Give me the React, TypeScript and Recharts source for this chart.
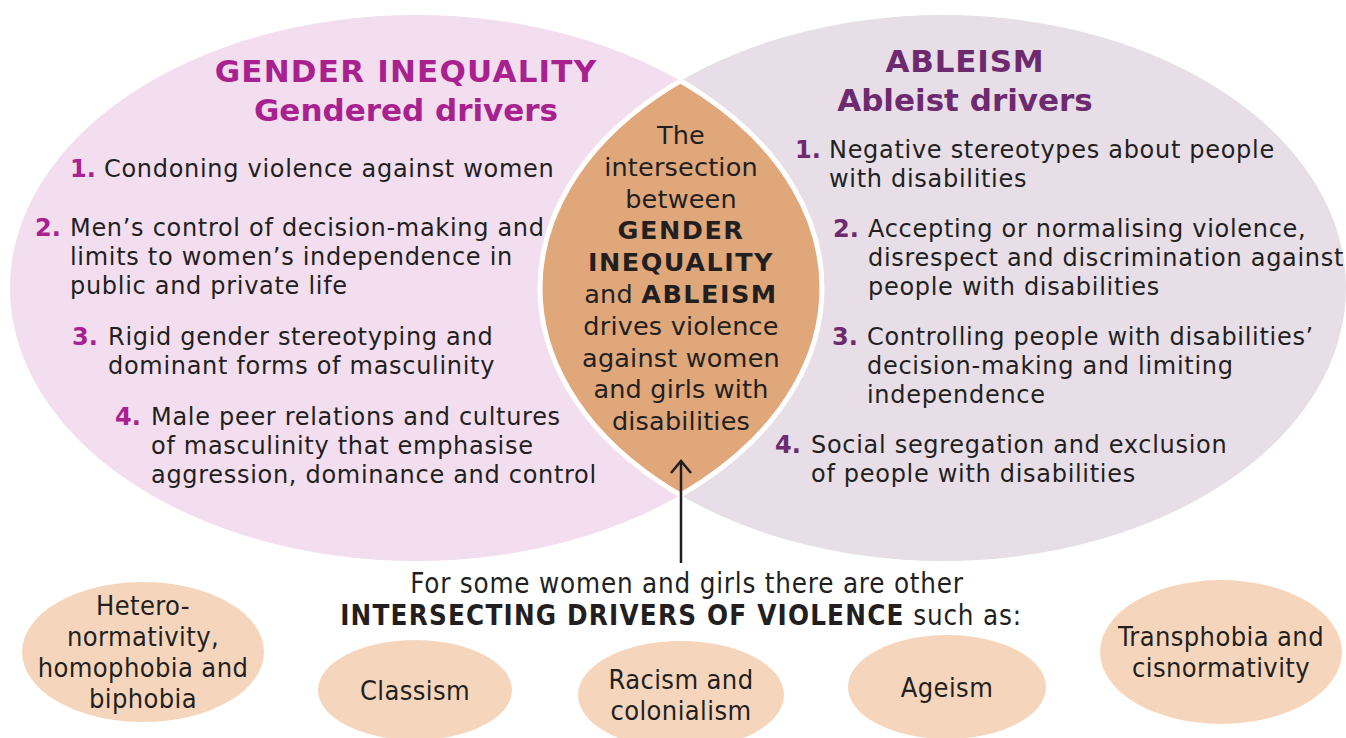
import React from "react";
import { ScatterChart, Scatter, XAxis, YAxis } from "recharts";

const W = 1346;
const H = 738;
const FONT = "'DejaVu Sans', Verdana, sans-serif";
const NARROW = "'DejaVu Sans Condensed', 'DejaVu Sans', sans-serif";

// two big circles of the diagram (data units = px, domain 0..W / 0..H)
const circles = [
  { x: 416, y: 288, rx: 406, ry: 273, fill: "#F2DEEF" },
  { x: 943, y: 288, rx: 403, ry: 273, fill: "#E7DEE8" },
];

const genderTitle = ["GENDER INEQUALITY", "Gendered drivers"];
const ableTitle = ["ABLEISM", "Ableist drivers"];

const genderDrivers = [
  ["Condoning violence against women"],
  ["Men’s control of decision-making and", "limits to women’s independence in", "public and private life"],
  ["Rigid gender stereotyping and", "dominant forms of masculinity"],
  ["Male peer relations and cultures", "of masculinity that emphasise", "aggression, dominance and control"],
];
const ableDrivers = [
  ["Negative stereotypes about people", "with disabilities"],
  ["Accepting or normalising violence,", "disrespect and discrimination against", "people with disabilities"],
  ["Controlling people with disabilities’", "decision-making and limiting", "independence"],
  ["Social segregation and exclusion", "of people with disabilities"],
];
const genderLayout = [
  { numX: 70, x: 104, y: 169 },
  { numX: 35, x: 70, y: 228 },
  { numX: 72, x: 108, y: 337 },
  { numX: 115, x: 151, y: 417 },
];
const ableLayout = [
  { numX: 795, x: 829, y: 150 },
  { numX: 833, x: 868, y: 229 },
  { numX: 832, x: 867, y: 337 },
  { numX: 775, x: 811, y: 445 },
];

// centre text: [text, bold]
const lensLines: [string, boolean][][] = [
  [["The", false]],
  [["intersection", false]],
  [["between", false]],
  [["GENDER", true]],
  [["INEQUALITY", true]],
  [["and ", false], ["ABLEISM", true]],
  [["drives violence", false]],
  [["against women", false]],
  [["and girls with", false]],
  [["disabilities", false]],
];

const otherDrivers = [
  ["Hetero-", "normativity,", "homophobia and", "biphobia"],
  ["Classism"],
  ["Racism and", "colonialism"],
  ["Ageism"],
  ["Transphobia and", "cisnormativity"],
];
const bubbles = [
  { x: 143, y: 652, rx: 121, ry: 70 },
  { x: 415, y: 690, rx: 97, ry: 50 },
  { x: 681, y: 695, rx: 103, ry: 54 },
  { x: 947, y: 687, rx: 99, ry: 52 },
  { x: 1221, y: 652, rx: 121, ry: 72 },
];

const PINK = "#A8218E";
const PURPLE = "#6E2A6E";
const INK = "#231F20";

const EllipseShape = (p: any) => (
  <ellipse cx={p.cx} cy={p.cy} rx={p.payload.rx} ry={p.payload.ry} fill={p.payload.fill} />
);

const LensShape = () => {
  const [a, b] = circles;
  return (
    <g>
      <defs>
        <clipPath id="clipA">
          <ellipse cx={a.x} cy={a.y} rx={a.rx} ry={a.ry} />
        </clipPath>
        <clipPath id="clipB">
          <ellipse cx={b.x} cy={b.y} rx={b.rx} ry={b.ry} />
        </clipPath>
      </defs>
      <ellipse cx={b.x} cy={b.y} rx={b.rx} ry={b.ry} fill="#E0A77B" clipPath="url(#clipA)" />
      <ellipse cx={a.x} cy={a.y} rx={a.rx} ry={a.ry} fill="none" stroke="#fff" strokeWidth={5} clipPath="url(#clipB)" />
      <ellipse cx={b.x} cy={b.y} rx={b.rx} ry={b.ry} fill="none" stroke="#fff" strokeWidth={5} clipPath="url(#clipA)" />
    </g>
  );
};

const DriverShape = (color: string) => (p: any) => {
  const d = p.payload;
  return (
    <g fontFamily={FONT} fontSize={24} letterSpacing={0.7} dominantBaseline="central">
      <text x={d.numX} y={p.cy} fill={color} fontWeight="bold" letterSpacing={0}>
        {d.n}.
      </text>
      {d.lines.map((l: string, i: number) => (
        <text key={i} x={p.cx} y={p.cy + i * 29} fill={INK}>
          {l}
        </text>
      ))}
    </g>
  );
};

const TitleShape = (color: string, spacing: number) => (p: any) => (
  <g fontFamily={FONT} fontSize={31} fontWeight="bold" fill={color} textAnchor="middle" dominantBaseline="central">
    {p.payload.lines.map((l: string, i: number) => (
      <text key={i} x={p.cx} y={p.cy + i * 39} letterSpacing={i === 0 ? spacing : 0}>
        {l}
      </text>
    ))}
  </g>
);

const LensText = (p: any) => (
  <g fontFamily={FONT} fontSize={25.5} fill={INK} textAnchor="middle" dominantBaseline="central">
    {lensLines.map((parts, i) => (
      <text key={i} x={p.cx} y={p.cy + i * 31.8}>
        {parts.map(([t, b], j) => (
          <tspan key={j} fontWeight={b ? "bold" : "normal"} letterSpacing={b ? 1.5 : 0.2}>
            {t}
          </tspan>
        ))}
      </text>
    ))}
  </g>
);

const Arrow = (p: any) => (
  <g stroke={INK} strokeWidth={2.5} fill="none">
    <line x1={p.cx} y1={p.cy} x2={p.cx} y2={p.cy + 102} />
    <polyline points={`${p.cx - 10},${p.cy + 12} ${p.cx},${p.cy} ${p.cx + 10},${p.cy + 12}`} />
  </g>
);

const Caption = (p: any) => (
  <g fontFamily={NARROW} fontStretch="condensed" fontSize={27.5} fill={INK} textAnchor="middle" dominantBaseline="central">
    <text x={p.cx} y={p.cy} letterSpacing={0.8}>
      For some women and girls there are other
    </text>
    <text x={p.cx - 6} y={p.cy + 32} letterSpacing={0.8}>
      <tspan fontWeight="bold" letterSpacing={1.2}>
        INTERSECTING DRIVERS OF VIOLENCE
      </tspan>{" "}
      such as:
    </text>
  </g>
);

const BubbleShape = (p: any) => {
  const lines: string[] = p.payload.lines;
  const top = p.cy - ((lines.length - 1) * 31) / 2;
  return (
    <g>
      <ellipse cx={p.cx} cy={p.cy} rx={p.payload.rx} ry={p.payload.ry} fill="#F5D6BD" />
      <g
        fontFamily={NARROW}
        fontStretch="condensed"
        fontSize={27}
        letterSpacing={0.4}
        fill={INK}
        textAnchor="middle"
        dominantBaseline="central"
      >
        {lines.map((l, i) => (
          <text key={i} x={p.cx} y={top + i * 31}>
            {l}
          </text>
        ))}
      </g>
    </g>
  );
};

export default function App() {
  const genderData = genderDrivers.map((lines, i) => ({ ...genderLayout[i], n: i + 1, lines }));
  const ableData = ableDrivers.map((lines, i) => ({ ...ableLayout[i], n: i + 1, lines }));
  const bubbleData = bubbles.map((b, i) => ({ ...b, lines: otherDrivers[i] }));
  return (
    <div style={{ position: "absolute", left: 0, top: 0, width: W, height: H, background: "#fff" }}>
      <ScatterChart width={W} height={H} margin={{ top: 0, right: 0, bottom: 0, left: 0 }}>
        <XAxis type="number" dataKey="x" domain={[0, W]} hide />
        <YAxis type="number" dataKey="y" domain={[0, H]} reversed hide />
        <Scatter data={circles} shape={EllipseShape} isAnimationActive={false} />
        <Scatter data={[{ x: 680, y: 288 }]} shape={LensShape} isAnimationActive={false} />
        <Scatter data={[{ x: 406, y: 71, lines: genderTitle }]} shape={TitleShape(PINK, 1.2)} isAnimationActive={false} />
        <Scatter data={[{ x: 965, y: 61, lines: ableTitle }]} shape={TitleShape(PURPLE, 0.8)} isAnimationActive={false} />
        <Scatter data={genderData} shape={DriverShape(PINK)} isAnimationActive={false} />
        <Scatter data={ableData} shape={DriverShape(PURPLE)} isAnimationActive={false} />
        <Scatter data={[{ x: 681, y: 135 }]} shape={LensText} isAnimationActive={false} />
        <Scatter data={[{ x: 681, y: 461 }]} shape={Arrow} isAnimationActive={false} />
        <Scatter data={[{ x: 687, y: 583 }]} shape={Caption} isAnimationActive={false} />
        <Scatter data={bubbleData} shape={BubbleShape} isAnimationActive={false} />
      </ScatterChart>
    </div>
  );
}
